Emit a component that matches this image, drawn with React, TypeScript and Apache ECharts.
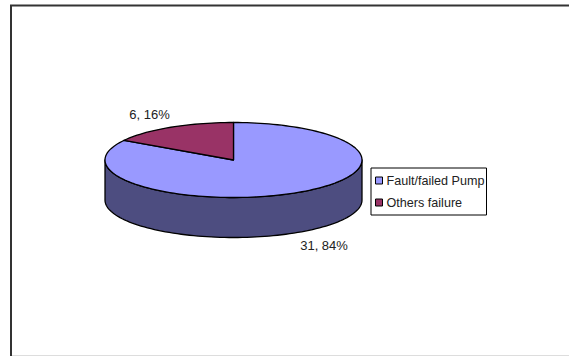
import React, { useEffect, useRef } from "react";
import * as echarts from "echarts";

const categories = ["Fault/failed Pump", "Others failure"];
const counts = [31, 6];
const topColors = ["#9999FF", "#993366"];
const wallColors = ["#4D4D80", "#4D1A33"];

const WIDTH = 569;
const HEIGHT = 356;
const CX = 233.5;
const CY = 160;
const RX = 128.5;
const RY = 37.5;
const DEPTH = 40;
const FONT = "'Liberation Sans', Arial, sans-serif";

const total = counts.reduce((a, b) => a + b, 0);

// Point on the ellipse; the angle is measured in degrees clockwise from 12 o'clock.
const rim = (deg: number, drop = 0): number[] => {
  const r = (deg * Math.PI) / 180;
  return [CX + RX * Math.sin(r), CY - RY * Math.cos(r) + drop];
};

const arcPoints = (from: number, to: number, drop = 0): number[][] => {
  const pts: number[][] = [];
  const steps = Math.max(1, Math.ceil((to - from) / 2));
  for (let i = 0; i <= steps; i++) pts.push(rim(from + ((to - from) * i) / steps, drop));
  return pts;
};

const sliceRange = (index: number): number[] => {
  const before = counts.slice(0, index).reduce((a, b) => a + b, 0);
  return [(before / total) * 360, ((before + counts[index]) / total) * 360];
};

const renderSlice = (index: number) => (_params: any, api: any) => {
  const value = api.value(0) as number;
  const [start] = sliceRange(index);
  const end = start + (value / total) * 360;
  const mid = (start + end) / 2;
  const children: any[] = [];
  const outline = { stroke: "#000", lineWidth: 1.3, lineJoin: "round" };

  // Only the part of the rim that faces the viewer shows a wall.
  const wallFrom = Math.max(start, 90);
  const wallTo = Math.min(end, 270);
  if (wallTo > wallFrom) {
    children.push({
      type: "polygon",
      shape: { points: [...arcPoints(wallFrom, wallTo), ...arcPoints(wallFrom, wallTo, DEPTH).reverse()] },
      style: { fill: wallColors[index], ...outline },
    });
  }

  children.push({
    type: "polygon",
    shape: { points: [[CX, CY], ...arcPoints(start, end)] },
    style: { fill: topColors[index], ...outline },
  });

  // Value label sits just outside the rim at the slice's middle angle.
  const front = Math.cos((mid * Math.PI) / 180) < 0;
  const [lx, ly] = rim(mid, front ? DEPTH : 0);
  children.push({
    type: "text",
    x: front ? lx + 4 : lx - 1,
    y: front ? ly + 6 : ly - 6,
    style: {
      text: `${value}, ${Math.round((value / total) * 100)}%`,
      fill: "#222",
      font: `13px ${FONT}`,
      align: front ? "left" : "right",
      verticalAlign: front ? "top" : "bottom",
    },
  });

  return { type: "group", children };
};

export default function App() {
  const ref = useRef<HTMLDivElement>(null);

  useEffect(() => {
    const chart = echarts.init(ref.current!, undefined, { renderer: "svg" });
    chart.setOption({
      animation: false,
      backgroundColor: "#fff",
      legend: {
        orient: "vertical",
        left: 371,
        top: 168,
        padding: [6, 2, 6, 4],
        itemGap: 9,
        itemWidth: 7,
        itemHeight: 7,
        itemStyle: { borderColor: "#000", borderWidth: 1 },
        icon: "rect",
        backgroundColor: "#fff",
        borderColor: "#000",
        borderWidth: 1,
        borderRadius: 0,
        data: categories,
        textStyle: { fontFamily: FONT, fontSize: 12.6, color: "#222", padding: [0, 0, 0, -1] },
        selectedMode: false,
      },
      graphic: [
        { type: "polyline", silent: true, shape: { points: [[11, 356], [11, 5.5], [569, 5.5]] }, style: { stroke: "#333", lineWidth: 2, fill: "none" } },
        { type: "line", silent: true, shape: { x1: 12, y1: 355.5, x2: 569, y2: 355.5 }, style: { stroke: "#ddd", lineWidth: 1 } },
      ],
      series: categories.map((name, i) => ({
        type: "custom",
        name,
        coordinateSystem: "none",
        itemStyle: { color: topColors[i] },
        data: [[counts[i]]],
        renderItem: renderSlice(i),
      })),
    });
    return () => chart.dispose();
  }, []);

  return <div ref={ref} style={{ position: "absolute", left: 0, top: 0, width: WIDTH, height: HEIGHT }} />;
}
